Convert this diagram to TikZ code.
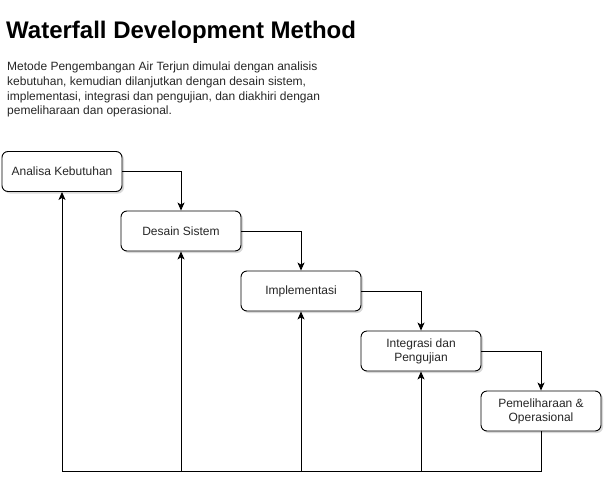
\documentclass[tikz,border=0pt]{standalone}
\usepackage{fontspec}
\setmainfont{Liberation Sans}
\usetikzlibrary{arrows.meta,shadows}
\begin{document}
\begin{tikzpicture}[x=1pt,y=-1pt,
  stepbox/.style={draw=black,line width=0.9pt,rounded corners=6pt,fill=white,
    minimum width=120pt,minimum height=40pt,align=center,font=\fontsize{12}{14}\selectfont,
    text=black!85,drop shadow={shadow xshift=2pt,shadow yshift=-2pt,fill=black!25,opacity=0.6}},
  conn/.style={line width=0.9pt,-{Stealth[length=8pt,width=7pt,inset=2pt]}},
  plain/.style={line width=0.9pt}]
\useasboundingbox (0,0) rectangle (609,487);
\node[anchor=base west,inner sep=0,font=\bfseries\fontsize{24}{26}\selectfont] (title) at (6,38) {Waterfall Development Method};
\node[anchor=north west,inner sep=0,align=left,text=black!85,font=\fontsize{12}{14.7}\selectfont] (desc) at (7,62)
 {Metode Pengembangan Air Terjun dimulai dengan analisis\\kebutuhan, kemudian dilanjutkan dengan desain sistem,\\implementasi, integrasi dan pengujian, dan diakhiri dengan\\pemeliharaan dan operasional.};
\node[stepbox] (a) at (62,171.5) {Analisa Kebutuhan};
\node[stepbox] (b) at (181,231) {Desain Sistem};
\node[stepbox] (c) at (301,291) {Implementasi};
\node[stepbox] (d) at (421,351) {Integrasi dan\\Pengujian};
\node[stepbox] (e) at (541,411) {Pemeliharaan \&\\Operasional};
\coordinate (bl) at (62,471);
\coordinate (br) at (541,471);
\coordinate (bb) at (181,471);
\coordinate (bc) at (301,471);
\coordinate (bd) at (421,471);
\draw[conn] (a.east) -| (b.north);
\draw[conn] (b.east) -| (c.north);
\draw[conn] (c.east) -| (d.north);
\draw[conn] (d.east) -| (e.north);
\draw[conn] (e.south) -- (br) -- (bl) -- (a.south);
\draw[conn] (bb) -- (b.south);
\draw[conn] (bc) -- (c.south);
\draw[conn] (bd) -- (d.south);
\end{tikzpicture}
\end{document}
